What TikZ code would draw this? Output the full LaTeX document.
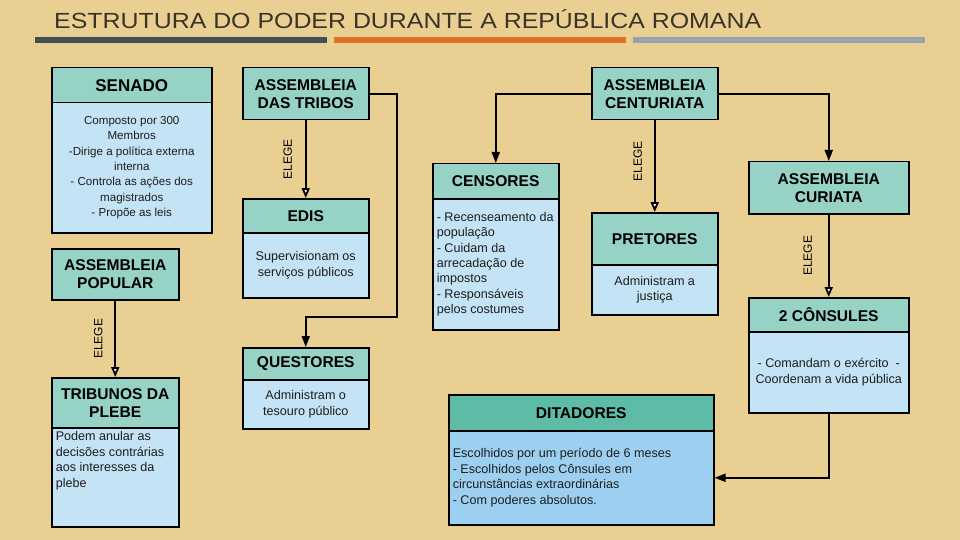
\documentclass[tikz,border=0pt]{standalone}
\usepackage{fontspec}
\setmainfont{Liberation Sans}
\usetikzlibrary{arrows.meta}
\definecolor{bgc}{RGB}{233,208,146}
\definecolor{hdrc}{RGB}{150,211,198}
\definecolor{hdrdark}{RGB}{94,187,168}
\definecolor{bodyc}{RGB}{196,227,245}
\definecolor{bodydark}{RGB}{157,208,240}
\definecolor{barA}{RGB}{64,78,86}
\definecolor{barB}{RGB}{224,112,42}
\definecolor{barC}{RGB}{152,162,172}
\definecolor{titlec}{RGB}{58,52,40}
\definecolor{textc}{RGB}{30,30,30}
\begin{document}
\begin{tikzpicture}[x=1pt,y=-1pt,
  hd/.style={draw=black, line width=1.5pt, fill=hdrc, anchor=north west, inner sep=0pt,
    align=center, text=black, font=\fontsize{15.6}{18}\selectfont\bfseries},
  bd/.style={draw=black, line width=1.5pt, fill=bodyc, anchor=north west, inner xsep=4pt, inner ysep=0pt,
    text=textc, font=\fontsize{12.6}{15.4}\selectfont},
  conn/.style={draw=black, line width=1.8pt, -{Triangle[length=11pt,width=8pt]}},
  elect/.style={draw=black, line width=1.8pt, -{Triangle[length=10pt,width=8pt,fill=white]}},
  elege/.style={font=\fontsize{12}{12}\selectfont, text=black, inner sep=0pt}
]
\fill[bgc] (0,0) rectangle (960,540);
\useasboundingbox (0,0) rectangle (960,540);

% title and bars
\node[anchor=base west, inner sep=0pt, text=titlec] (title) at (54,28.3)
  {\scalebox{1}[0.88]{\fontsize{24.9}{26}\selectfont ESTRUTURA DO PODER DURANTE A REPÚBLICA ROMANA}};
\fill[barA] (35,37) rectangle (327,43);
\fill[barB] (334,37) rectangle (626,43);
\fill[barC] (633,37) rectangle (925,43);

% SENADO
\node[hd, minimum width=160pt, minimum height=35pt, font=\fontsize{17}{19}\selectfont\bfseries] (senH) at (51,67) {SENADO};
\node[bd, font=\fontsize{11.6}{15.3}\selectfont] (senB) at (51,102) {\parbox[t][130pt][c]{152pt}{\centering
  Composto por 300\\ Membros\\ -Dirige a política externa\\ interna\\ - Controla as ações dos\\ magistrados\\ - Propõe as leis}};

% ASSEMBLEIA POPULAR
\node[hd, minimum width=127pt, minimum height=51pt] (pop) at (51,248) {ASSEMBLEIA\\POPULAR};

% TRIBUNOS DA PLEBE
\node[hd, minimum width=127pt, minimum height=50pt] (tribH) at (51,377) {TRIBUNOS DA\\PLEBE};
\node[bd] (tribB) at (51,427) {\parbox[t][99pt][t]{119pt}{\raggedright\vspace*{4pt}
  Podem anular as\\ decisões contrárias\\ aos interesses da\\ plebe}};

% ASSEMBLEIA DAS TRIBOS
\node[hd, minimum width=126pt, minimum height=52pt] (tribos) at (242,67) {ASSEMBLEIA\\DAS TRIBOS};

% EDIS
\node[hd, minimum width=126pt, minimum height=34pt] (edisH) at (242,198) {EDIS};
\node[bd] (edisB) at (242,232) {\parbox[t][65pt][c]{118pt}{\centering
  Supervisionam os\\ serviços públicos}};

% QUESTORES
\node[hd, minimum width=126pt, minimum height=32pt] (questH) at (242,347) {QUESTORES};
\node[bd] (questB) at (242,379) {\parbox[t][49pt][c]{118pt}{\centering
  Administram o\\ tesouro público}};

% ASSEMBLEIA CENTURIATA
\node[hd, minimum width=126pt, minimum height=52pt] (cent) at (591,67) {ASSEMBLEIA\\CENTURIATA};

% CENSORES
\node[hd, minimum width=126pt, minimum height=35pt] (censH) at (432,163) {CENSORES};
\node[bd] (censB) at (432,198) {\parbox[t][131pt][c]{118pt}{\raggedright
  - Recenseamento da\\ população\\ - Cuidam da\\ arrecadação de\\ impostos\\ - Responsáveis\\ pelos costumes}};

% PRETORES
\node[hd, minimum width=126pt, minimum height=52pt] (pretH) at (591,212) {PRETORES};
\node[bd] (pretB) at (591,264) {\parbox[t][50pt][c]{118pt}{\centering
  Administram a\\ justiça}};

% ASSEMBLEIA CURIATA
\node[hd, minimum width=160pt, minimum height=52pt] (curiata) at (748,161) {ASSEMBLEIA\\CURIATA};

% 2 CONSULES
\node[hd, minimum width=160pt, minimum height=34pt] (consH) at (748,297) {2 CÔNSULES};
\node[bd] (consB) at (748,331) {\parbox[t][81pt][c]{152pt}{\centering
  - Comandam o exército~~-\\ Coordenam a vida pública}};

% DITADORES
\node[hd, fill=hdrdark, minimum width=265pt, minimum height=36pt] (ditH) at (448,394) {DITADORES};
\node[bd, fill=bodydark] (ditB) at (448,430) {\parbox[t][94pt][c]{257pt}{\raggedright
  Escolhidos por um período de 6 meses\\ - Escolhidos pelos Cônsules em\\ circunstâncias extraordinárias\\ - Com poderes absolutos.}};

% connectors
\draw[elect] (pop.south) -- node[elege, midway, xshift=-17pt, rotate=90] {ELEGE} (tribH.north);
\draw[elect] (tribos.south) -- node[elege, midway, xshift=-18pt, rotate=90] {ELEGE} (edisH.north);
\coordinate (qbend) at (397,317);
\draw[conn] (tribos.east) -| (qbend) -| (questH.north);
\draw[conn] (cent.west) -| (censH.north);
\draw[elect] (cent.south) -- node[elege, midway, xshift=-17pt, yshift=5pt, rotate=90] {ELEGE} (pretH.north);
\draw[conn] (cent.east) -| (curiata.north);
\draw[elect] (curiata.south) -- node[elege, midway, xshift=-21pt, rotate=90] {ELEGE} (consH.north);
\draw[conn] (consB.south) |- (ditB.east);
\end{tikzpicture}
\end{document}
